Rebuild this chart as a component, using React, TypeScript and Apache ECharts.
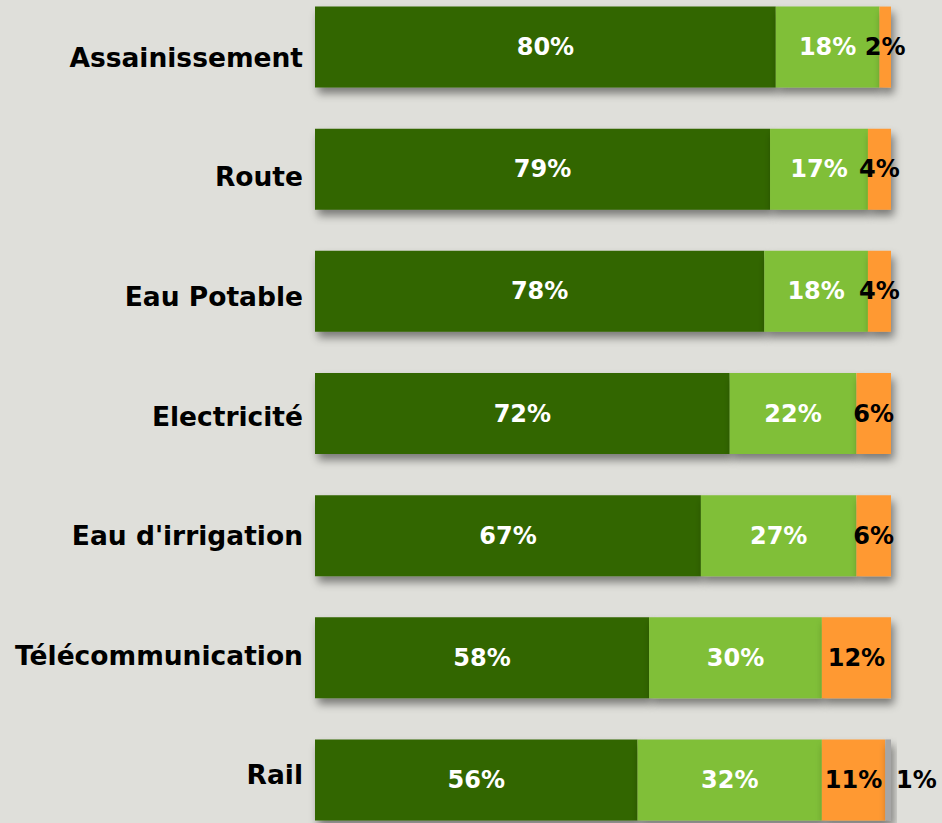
import React, { useEffect, useRef } from "react";
import * as echarts from "echarts";

const categories = [
  "Assainissement",
  "Route",
  "Eau Potable",
  "Electricité",
  "Eau d'irrigation",
  "Télécommunication",
  "Rail",
];
const seriesA = [80, 79, 78, 72, 67, 58, 56];
const seriesB = [18, 17, 18, 22, 27, 30, 32];
const seriesC = [2, 4, 4, 6, 6, 12, 11];
const seriesD = [0, 0, 0, 0, 0, 0, 1];

const FONT = "'DejaVu Sans', Verdana, sans-serif";

export default function App() {
  const ref = useRef<HTMLDivElement>(null);
  useEffect(() => {
    document.body.style.margin = "0";
    document.body.style.background = "#dfdfda";
    if (!ref.current) return;
    const chart = echarts.init(ref.current, null, { renderer: "svg" });
    const shadow = {
      shadowColor: "rgba(0,0,0,0.45)",
      shadowBlur: 8,
      shadowOffsetX: 3,
      shadowOffsetY: 6,
    };
    const mk = (name: string, data: number[], color: string, labelColor: string, pos: string) => ({
      name,
      type: "bar",
      stack: "total",
      data,
      barWidth: 81,
      xAxisIndex: 0,
      yAxisIndex: 0,
      itemStyle: { color, ...shadow },
      label: {
        show: true,
        position: pos,
        color: labelColor,
        fontSize: 24,
        fontWeight: "bold",
        fontFamily: FONT,
        formatter: (p: any) => (p.value ? p.value + "%" : ""),
      },
    });
    chart.setOption({
      animation: false,
      backgroundColor: "#dfdfda",
      grid: [
        { left: 315, right: 51, top: 0, bottom: 0, containLabel: false },
        { left: 315, right: 51, top: 11.2, bottom: 6.2, containLabel: false },
      ],
      xAxis: [
        { type: "value", min: 0, max: 100, show: false, gridIndex: 0 },
        { type: "value", min: 0, max: 100, show: false, gridIndex: 1 },
      ],
      yAxis: [
        {
          type: "category",
          gridIndex: 0,
          inverse: true,
          data: categories,
          axisLine: { show: false },
          axisTick: { show: false },
          splitLine: { show: false },
          axisLabel: { show: false },
        },
        {
          type: "category",
          gridIndex: 1,
          inverse: true,
          data: categories,
          axisLine: { show: false },
          axisTick: { show: false },
          splitLine: { show: false },
          axisLabel: {
            color: "#000",
            fontSize: 26.5,
            fontWeight: "bold",
            fontFamily: FONT,
            margin: 12,
          },
        },
      ],
      series: [
        mk("A", seriesA, "#336600", "#ffffff", "inside"),
        mk("B", seriesB, "#80bf37", "#ffffff", "inside"),
        mk("C", seriesC, "#ff9933", "#000000", "inside"),
        mk("D", seriesD, "#a6a6a6", "#000000", "right"),
      ],
    });
    return () => chart.dispose();
  }, []);
  return (
    <div
      ref={ref}
      style={{ position: "fixed", left: 0, top: -14, width: 942, height: 855 }}
    />
  );
}
